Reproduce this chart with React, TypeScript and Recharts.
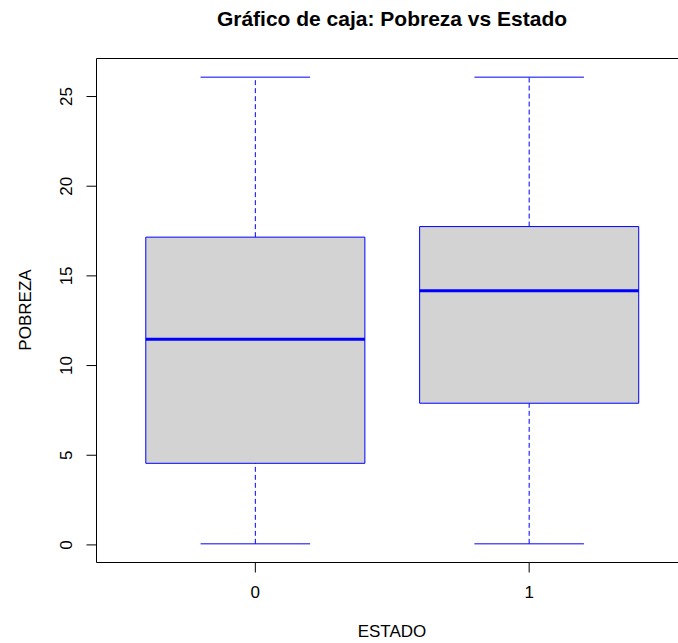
import { ComposedChart, XAxis, YAxis, Scatter, ReferenceArea, ReferenceLine } from 'recharts';

const estados = ['0', '1'];
const minimos = [0.06, 0.06];
const cuartil1 = [4.55, 7.9];
const medianas = [11.47, 14.17];
const cuartil3 = [17.16, 17.75];
const maximos = [26.08, 26.08];
const yTicks = [0, 5, 10, 15, 20, 25];

const FONT = '"Liberation Sans", Arial, sans-serif';
const AZUL = '#0000FF';

// R extends both axes by 4% of the range
const yMin = Math.min(...minimos);
const yMax = Math.max(...maximos);
const yPad = (yMax - yMin) * 0.04;
const yDomain = [yMin - yPad, yMax + yPad];
const xDomain = [-0.5 - 0.08, estados.length - 0.5 + 0.08];

const puntos = estados.map((_, i) => ({ x: i, y: medianas[i] }));

function YTick({ x, y, payload }: any) {
  return (
    <text
      x={x}
      y={y}
      transform={`rotate(-90, ${x}, ${y})`}
      textAnchor="middle"
      fontSize={17}
      fontFamily={FONT}
      fill="#000"
    >
      {payload.value}
    </text>
  );
}

function XTick({ x, y, payload }: any) {
  return (
    <text x={x} y={y} dy="0.71em" textAnchor="middle" fontSize={17} fontFamily={FONT} fill="#000">
      {estados[payload.value]}
    </text>
  );
}

export default function App() {
  return (
    <div style={{ position: 'absolute', left: 0, top: 0, width: 678, height: 643, overflow: 'hidden', background: '#fff' }}>
      <ComposedChart width={700} height={643} data={puntos} margin={{ top: 58.5, right: 12, bottom: 50.5, left: 36.5 }}>
        <XAxis
          type="number"
          dataKey="x"
          domain={xDomain}
          ticks={estados.map((_, i) => i)}
          allowDataOverflow
          axisLine={false}
          tickLine={{ stroke: '#000' }}
          tickSize={10}
          tickMargin={13}
          height={30}
          tick={<XTick />}
        />
        <YAxis
          type="number"
          dataKey="y"
          domain={yDomain}
          ticks={yTicks}
          allowDataOverflow
          axisLine={false}
          tickLine={{ stroke: '#000' }}
          tickSize={10}
          tickMargin={14}
          width={60}
          tick={<YTick />}
        />
        <ReferenceArea
          x1={xDomain[0]}
          x2={xDomain[1]}
          y1={yDomain[0]}
          y2={yDomain[1]}
          fill="none"
          fillOpacity={0}
          stroke="#000"
          strokeWidth={1}
        />
        {estados.map((e, i) => (
          <ReferenceLine
            key={`wsup-${e}`}
            segment={[{ x: i, y: cuartil3[i] }, { x: i, y: maximos[i] }]}
            stroke={AZUL}
            strokeDasharray="5 3"
          />
        ))}
        {estados.map((e, i) => (
          <ReferenceLine
            key={`winf-${e}`}
            segment={[{ x: i, y: minimos[i] }, { x: i, y: cuartil1[i] }]}
            stroke={AZUL}
            strokeDasharray="5 3"
          />
        ))}
        {estados.map((e, i) => (
          <ReferenceLine
            key={`csup-${e}`}
            segment={[{ x: i - 0.2, y: maximos[i] }, { x: i + 0.2, y: maximos[i] }]}
            stroke={AZUL}
          />
        ))}
        {estados.map((e, i) => (
          <ReferenceLine
            key={`cinf-${e}`}
            segment={[{ x: i - 0.2, y: minimos[i] }, { x: i + 0.2, y: minimos[i] }]}
            stroke={AZUL}
          />
        ))}
        {estados.map((e, i) => (
          <ReferenceArea
            key={`caja-${e}`}
            x1={i - 0.4}
            x2={i + 0.4}
            y1={cuartil1[i]}
            y2={cuartil3[i]}
            fill="#D3D3D3"
            fillOpacity={1}
            stroke={AZUL}
            strokeWidth={1}
          />
        ))}
        {estados.map((e, i) => (
          <ReferenceLine
            key={`med-${e}`}
            segment={[{ x: i - 0.4, y: medianas[i] }, { x: i + 0.4, y: medianas[i] }]}
            stroke={AZUL}
            strokeWidth={3}
          />
        ))}
        <Scatter dataKey="y" shape={() => <g />} isAnimationActive={false} />
      </ComposedChart>
      <svg
        width={678}
        height={643}
        style={{ position: 'absolute', left: 0, top: 0, pointerEvents: 'none' }}
        fontFamily={FONT}
      >
        <text x={392} y={26} textAnchor="middle" fontSize={21} fontWeight="bold" fill="#000">
          Gráfico de caja: Pobreza vs Estado
        </text>
        <text x={392} y={637} textAnchor="middle" fontSize={17} fill="#000">
          ESTADO
        </text>
        <text x={31} y={310} transform="rotate(-90, 31, 310)" textAnchor="middle" fontSize={17} fill="#000">
          POBREZA
        </text>
      </svg>
    </div>
  );
}
